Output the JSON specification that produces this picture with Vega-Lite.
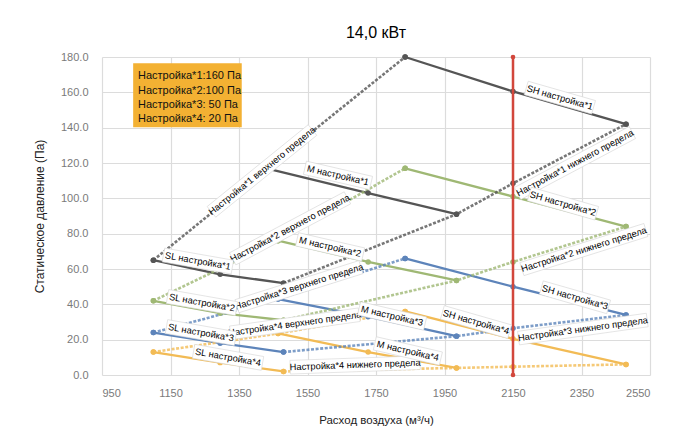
{
  "$schema": "https://vega.github.io/schema/vega-lite/v6.json",
  "width": 548,
  "height": 318,
  "autosize": {"type": "none"},
  "padding": {"left": 102, "top": 57, "right": 39, "bottom": 59},
  "background": "white",
  "title": {"text": "14,0 кВт", "fontSize": 16, "fontWeight": "normal", "font": "Liberation Sans", "color": "#000000", "offset": 10, "anchor": "middle"},
  "config": {
    "view": {"stroke": null},
    "axis": {"gridColor": "#dcdcdc", "gridWidth": 1.2, "ticks": false, "domain": false, "labelFont": "Liberation Sans", "labelFontSize": 11, "labelColor": "#7a7a7a", "titleFont": "Liberation Sans", "titleFontWeight": "normal", "titleColor": "#222222"}
  },
  "datasets": {
    "curves": [
      {"s": "1", "k": "U", "x": 1100, "y": 65}, {"s": "1", "k": "U", "x": 1430, "y": 117}, {"s": "1", "k": "U", "x": 1835, "y": 180},
      {"s": "1", "k": "SH", "x": 1835, "y": 180}, {"s": "1", "k": "SH", "x": 2150, "y": 160.5}, {"s": "1", "k": "SH", "x": 2480, "y": 142},
      {"s": "1", "k": "L", "x": 1480, "y": 52}, {"s": "1", "k": "L", "x": 1985, "y": 91}, {"s": "1", "k": "L", "x": 2150, "y": 108.5}, {"s": "1", "k": "L", "x": 2480, "y": 142},
      {"s": "1", "k": "M", "x": 1430, "y": 117}, {"s": "1", "k": "M", "x": 1727, "y": 103}, {"s": "1", "k": "M", "x": 1985, "y": 91},
      {"s": "1", "k": "SL", "x": 1100, "y": 65}, {"s": "1", "k": "SL", "x": 1295, "y": 57}, {"s": "1", "k": "SL", "x": 1480, "y": 52},

      {"s": "2", "k": "U", "x": 1100, "y": 42}, {"s": "2", "k": "U", "x": 1464, "y": 76}, {"s": "2", "k": "U", "x": 1835, "y": 117},
      {"s": "2", "k": "SH", "x": 1835, "y": 117}, {"s": "2", "k": "SH", "x": 2150, "y": 101}, {"s": "2", "k": "SH", "x": 2480, "y": 84},
      {"s": "2", "k": "L", "x": 1480, "y": 31}, {"s": "2", "k": "L", "x": 1985, "y": 53.5}, {"s": "2", "k": "L", "x": 2150, "y": 64}, {"s": "2", "k": "L", "x": 2480, "y": 84},
      {"s": "2", "k": "M", "x": 1464, "y": 76}, {"s": "2", "k": "M", "x": 1727, "y": 64}, {"s": "2", "k": "M", "x": 1985, "y": 53.5},
      {"s": "2", "k": "SL", "x": 1100, "y": 42}, {"s": "2", "k": "SL", "x": 1295, "y": 35}, {"s": "2", "k": "SL", "x": 1480, "y": 31},

      {"s": "3", "k": "U", "x": 1100, "y": 24}, {"s": "3", "k": "U", "x": 1464, "y": 43}, {"s": "3", "k": "U", "x": 1835, "y": 66},
      {"s": "3", "k": "SH", "x": 1835, "y": 66}, {"s": "3", "k": "SH", "x": 2150, "y": 50}, {"s": "3", "k": "SH", "x": 2480, "y": 34},
      {"s": "3", "k": "L", "x": 1480, "y": 13}, {"s": "3", "k": "L", "x": 1985, "y": 22}, {"s": "3", "k": "L", "x": 2150, "y": 26.5}, {"s": "3", "k": "L", "x": 2480, "y": 34},
      {"s": "3", "k": "M", "x": 1464, "y": 43}, {"s": "3", "k": "M", "x": 1727, "y": 33}, {"s": "3", "k": "M", "x": 1985, "y": 22},
      {"s": "3", "k": "SL", "x": 1100, "y": 24}, {"s": "3", "k": "SL", "x": 1295, "y": 18}, {"s": "3", "k": "SL", "x": 1480, "y": 13},

      {"s": "4", "k": "U", "x": 1100, "y": 13}, {"s": "4", "k": "U", "x": 1464, "y": 23.5}, {"s": "4", "k": "U", "x": 1835, "y": 36},
      {"s": "4", "k": "SH", "x": 1835, "y": 36}, {"s": "4", "k": "SH", "x": 2150, "y": 20.5}, {"s": "4", "k": "SH", "x": 2480, "y": 6},
      {"s": "4", "k": "L", "x": 1480, "y": 2}, {"s": "4", "k": "L", "x": 1985, "y": 4}, {"s": "4", "k": "L", "x": 2150, "y": 4.7}, {"s": "4", "k": "L", "x": 2480, "y": 6},
      {"s": "4", "k": "M", "x": 1464, "y": 23.5}, {"s": "4", "k": "M", "x": 1727, "y": 13}, {"s": "4", "k": "M", "x": 1985, "y": 4},
      {"s": "4", "k": "SL", "x": 1100, "y": 13}, {"s": "4", "k": "SL", "x": 1295, "y": 7}, {"s": "4", "k": "SL", "x": 1480, "y": 2}
    ],
    "labels": [
      {"id": "U1", "k": "U", "t": "Настройка*1 верхнего предела", "x": 1417, "y": 115.5},
      {"id": "L1", "k": "L", "t": "Настройка*1 нижнего предела", "x": 2331, "y": 120},
      {"id": "M1", "k": "M", "t": "M настройка*1", "x": 1639, "y": 113},
      {"id": "SL1", "k": "SL", "t": "SL настройка*1", "x": 1230, "y": 64.5},
      {"id": "SH1", "k": "SH", "t": "SH настройка*1", "x": 2287, "y": 157},
      {"id": "U2", "k": "U", "t": "Настройка*2 верхнего предела", "x": 1499, "y": 83},
      {"id": "L2", "k": "L", "t": "Настройка*2 нижнего предела", "x": 2357, "y": 71},
      {"id": "M2", "k": "M", "t": "M настройка*2", "x": 1616, "y": 72.5},
      {"id": "SL2", "k": "SL", "t": "SL настройка*2", "x": 1242, "y": 41},
      {"id": "SH2", "k": "SH", "t": "SH настройка*2", "x": 2296, "y": 97},
      {"id": "U3", "k": "U", "t": "Настройка*3 верхнего предела", "x": 1525, "y": 50},
      {"id": "L3", "k": "L", "t": "Настройка*3 нижнего предела", "x": 2354, "y": 26},
      {"id": "M3", "k": "M", "t": "M настройка*3", "x": 1797, "y": 33.4},
      {"id": "SL3", "k": "SL", "t": "SL настройка*3", "x": 1239, "y": 24},
      {"id": "SH3", "k": "SH", "t": "SH настройка*3", "x": 2331, "y": 44},
      {"id": "U4", "k": "U", "t": "Настройка*4 верхнего предела", "x": 1513, "y": 29},
      {"id": "L4", "k": "L", "t": "Настройка*4 нижнего предела", "x": 1689, "y": 5.7},
      {"id": "M4", "k": "M", "t": "M настройка*4", "x": 1843, "y": 13.6},
      {"id": "SL4", "k": "SL", "t": "SL настройка*4", "x": 1318, "y": 10},
      {"id": "SH4", "k": "SH", "t": "SH настройка*4", "x": 2042, "y": 30}
    ],
    "legendtext": [
      {"t": "Настройка*1:160 Па", "x": 1055, "y": 169},
      {"t": "Настройка*2:100 Па", "x": 1055, "y": 160.8},
      {"t": "Настройка*3: 50 Па", "x": 1055, "y": 152.8},
      {"t": "Настройка*4: 20 Па", "x": 1055, "y": 144.7}
    ],
    "legendbox": [{"x": 1041, "x2": 1358, "y": 176.4, "y2": 140.2}],
    "limit": [{"x": 2150, "y": 0, "y2": 180}]
  },
  "encoding": {
    "x": {"field": "x", "type": "quantitative", "scale": {"domain": [950, 2550], "nice": false, "zero": false},
      "axis": {"title": "Расход воздуха (м³/ч)", "values": [950, 1150, 1350, 1550, 1750, 1950, 2150, 2350, 2550], "format": "d", "labelPadding": 12, "titlePadding": 16, "titleFontSize": 11.5}},
    "y": {"field": "y", "type": "quantitative", "scale": {"domain": [0, 180], "nice": false, "zero": true},
      "axis": {"title": "Статическое давление (Па)", "values": [0, 20, 40, 60, 80, 100, 120, 140, 160, 180], "format": ".1f", "labelPadding": 14, "titlePadding": 14, "titleFontSize": 12}}
  },
  "layer": [
    {
      "data": {"name": "legendbox"},
      "mark": {"type": "rect", "fill": "#f3b133"},
      "encoding": {"x2": {"field": "x2"}, "y2": {"field": "y2"}}
    },
    {
      "data": {"name": "legendtext"},
      "mark": {"type": "text", "align": "left", "baseline": "middle", "font": "Liberation Sans", "fontSize": 11, "color": "#111111"},
      "encoding": {"text": {"field": "t"}}
    },
    {
      "data": {"name": "curves"},
      "transform": [{"filter": {"field": "k", "oneOf": ["SL", "M", "SH"]}}],
      "mark": {"type": "line", "strokeWidth": 2.3},
      "encoding": {
        "color": {"field": "s", "type": "nominal", "scale": {"domain": ["1", "2", "3", "4"], "range": ["#555555", "#9fb874", "#5d84ba", "#f2bb55"]}, "legend": null},
        "detail": {"field": "k"}
      }
    },
    {
      "data": {"name": "curves"},
      "transform": [{"filter": {"field": "k", "oneOf": ["U", "L"]}}],
      "mark": {"type": "line", "strokeWidth": 2.6, "strokeDash": [3, 1.6], "opacity": 0.8},
      "encoding": {
        "color": {"field": "s", "type": "nominal", "scale": {"domain": ["1", "2", "3", "4"], "range": ["#555555", "#9fb874", "#5d84ba", "#f2bb55"]}, "legend": null},
        "detail": {"field": "k"}
      }
    },
    {
      "data": {"name": "curves"},
      "mark": {"type": "circle", "size": 30, "opacity": 1},
      "encoding": {
        "color": {"field": "s", "type": "nominal", "scale": {"domain": ["1", "2", "3", "4"], "range": ["#555555", "#9fb874", "#5d84ba", "#f2bb55"]}, "legend": null}
      }
    },
    {
      "data": {"name": "limit"},
      "mark": {"type": "rule", "color": "#d2473c", "strokeWidth": 2.5},
      "encoding": {"y2": {"field": "y2"}}
    },
    {
      "data": {"name": "limit"},
      "layer": [
        {"mark": {"type": "circle", "size": 22, "color": "#d2473c", "opacity": 1}},
        {"mark": {"type": "circle", "size": 22, "color": "#d2473c", "opacity": 1}, "encoding": {"y": {"field": "y2", "type": "quantitative"}}}
      ]
    },
    {
      "data": {"name": "labels"},
      "transform": [{"filter": {"field": "id", "oneOf": ["U1"]}}],
      "layer": [
        {"mark": {"type": "point", "shape": "M-1,-0.105L1,-0.105L1,0.105L-1,0.105Z", "size": 16900, "filled": true, "color": "#ffffff", "fill": "#ffffff", "stroke": "#d6d6d6", "strokeWidth": 0.6, "opacity": 1, "fillOpacity": 1, "angle": -39}},
        {"mark": {"type": "text", "angle": -39, "font": "Liberation Sans", "fontSize": 9.3, "color": "#000000", "align": "center", "baseline": "middle"}, "encoding": {"text": {"field": "t"}}}
      ]
    },
    {
      "data": {"name": "labels"},
      "transform": [{"filter": {"field": "id", "oneOf": ["L1", "U2"]}}],
      "layer": [
        {"mark": {"type": "point", "shape": "M-1,-0.105L1,-0.105L1,0.105L-1,0.105Z", "size": 16900, "filled": true, "color": "#ffffff", "fill": "#ffffff", "stroke": "#d6d6d6", "strokeWidth": 0.6, "opacity": 1, "fillOpacity": 1, "angle": -28}},
        {"mark": {"type": "text", "angle": -28, "font": "Liberation Sans", "fontSize": 9.3, "color": "#000000", "align": "center", "baseline": "middle"}, "encoding": {"text": {"field": "t"}}}
      ]
    },
    {
      "data": {"name": "labels"},
      "transform": [{"filter": {"field": "id", "oneOf": ["L2", "U3"]}}],
      "layer": [
        {"mark": {"type": "point", "shape": "M-1,-0.105L1,-0.105L1,0.105L-1,0.105Z", "size": 16900, "filled": true, "color": "#ffffff", "fill": "#ffffff", "stroke": "#d6d6d6", "strokeWidth": 0.6, "opacity": 1, "fillOpacity": 1, "angle": -17.5}},
        {"mark": {"type": "text", "angle": -17.5, "font": "Liberation Sans", "fontSize": 9.3, "color": "#000000", "align": "center", "baseline": "middle"}, "encoding": {"text": {"field": "t"}}}
      ]
    },
    {
      "data": {"name": "labels"},
      "transform": [{"filter": {"field": "id", "oneOf": ["L3", "U4"]}}],
      "layer": [
        {"mark": {"type": "point", "shape": "M-1,-0.105L1,-0.105L1,0.105L-1,0.105Z", "size": 16900, "filled": true, "color": "#ffffff", "fill": "#ffffff", "stroke": "#d6d6d6", "strokeWidth": 0.6, "opacity": 1, "fillOpacity": 1, "angle": -8}},
        {"mark": {"type": "text", "angle": -8, "font": "Liberation Sans", "fontSize": 9.3, "color": "#000000", "align": "center", "baseline": "middle"}, "encoding": {"text": {"field": "t"}}}
      ]
    },
    {
      "data": {"name": "labels"},
      "transform": [{"filter": {"field": "id", "oneOf": ["L4"]}}],
      "layer": [
        {"mark": {"type": "point", "shape": "M-1,-0.105L1,-0.105L1,0.105L-1,0.105Z", "size": 16900, "filled": true, "color": "#ffffff", "fill": "#ffffff", "stroke": "#d6d6d6", "strokeWidth": 0.6, "opacity": 1, "fillOpacity": 1, "angle": -2}},
        {"mark": {"type": "text", "angle": -2, "font": "Liberation Sans", "fontSize": 9.3, "color": "#000000", "align": "center", "baseline": "middle"}, "encoding": {"text": {"field": "t"}}}
      ]
    },
    {
      "data": {"name": "labels"},
      "transform": [{"filter": {"field": "k", "oneOf": ["SL"]}}],
      "layer": [
        {"mark": {"type": "point", "shape": "M-1,-0.2L1,-0.2L1,0.2L-1,0.2Z", "size": 4900, "filled": true, "color": "#ffffff", "fill": "#ffffff", "stroke": "#d6d6d6", "strokeWidth": 0.6, "opacity": 1, "fillOpacity": 1, "angle": 10}},
        {"mark": {"type": "text", "angle": 10, "font": "Liberation Sans", "fontSize": 9.3, "color": "#000000", "align": "center", "baseline": "middle"}, "encoding": {"text": {"field": "t"}}}
      ]
    },
    {
      "data": {"name": "labels"},
      "transform": [{"filter": {"field": "k", "oneOf": ["M"]}}],
      "layer": [
        {"mark": {"type": "point", "shape": "M-1,-0.2L1,-0.2L1,0.2L-1,0.2Z", "size": 4600, "filled": true, "color": "#ffffff", "fill": "#ffffff", "stroke": "#d6d6d6", "strokeWidth": 0.6, "opacity": 1, "fillOpacity": 1, "angle": 13}},
        {"mark": {"type": "text", "angle": 13, "font": "Liberation Sans", "fontSize": 9.3, "color": "#000000", "align": "center", "baseline": "middle"}, "encoding": {"text": {"field": "t"}}}
      ]
    },
    {
      "data": {"name": "labels"},
      "transform": [{"filter": {"field": "k", "oneOf": ["SH"]}}],
      "layer": [
        {"mark": {"type": "point", "shape": "M-1,-0.2L1,-0.2L1,0.2L-1,0.2Z", "size": 4900, "filled": true, "color": "#ffffff", "fill": "#ffffff", "stroke": "#d6d6d6", "strokeWidth": 0.6, "opacity": 1, "fillOpacity": 1, "angle": 16}},
        {"mark": {"type": "text", "angle": 16, "font": "Liberation Sans", "fontSize": 9.3, "color": "#000000", "align": "center", "baseline": "middle"}, "encoding": {"text": {"field": "t"}}}
      ]
    }
  ]
}
